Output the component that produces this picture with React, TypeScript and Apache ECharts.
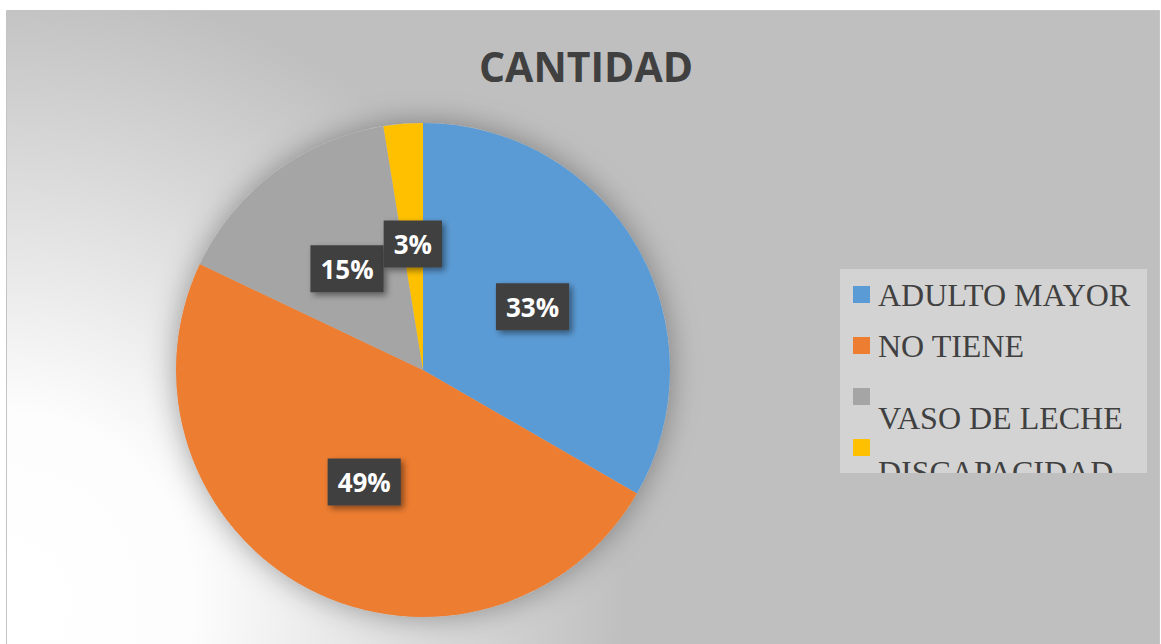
import React, { useEffect, useRef } from "react";
import * as echarts from "echarts";

const titleText = "CANTIDAD";
const categories = ["ADULTO MAYOR", "NO TIENE", "VASO DE LECHE", "DISCAPACIDAD"];
const values = [13, 19, 6, 1];
const colors = ["#5b9bd5", "#ed7d31", "#a5a5a5", "#ffc000"];

// legend layout (text of the last two items wraps onto a second line)
const legendTextShift = [0, 0, 21, 24];

export default function App() {
  const ref = useRef<HTMLDivElement>(null);

  useEffect(() => {
    if (!ref.current) return;
    const chart = echarts.init(ref.current, null, { renderer: "svg" });

    const legendLeft = 840;
    const legendTop = 269;
    const legendW = 307;
    const legendH = 204;
    const pitch = 51;

    const legendEls: any[] = [];
    categories.forEach((name, i) => {
      const iconY = 286 + pitch * i;
      legendEls.push({
        type: "rect",
        z: 11,
        shape: { x: 853, y: iconY, width: 17, height: 17 },
        style: { fill: colors[i] },
      });
      legendEls.push({
        type: "text",
        z: 11,
        x: 878,
        y: iconY + 8.5 + legendTextShift[i],
        style: {
          text: name,
          fill: "#404040",
          font: "32px 'Liberation Serif', 'Times New Roman', serif",
          verticalAlign: "middle",
          align: "left",
        },
      });
    });

    chart.setOption({
      animation: false,
      backgroundColor: "#ffffff",
      title: {
        text: titleText,
        left: 581,
        top: 40,
        textAlign: "center",
        textStyle: {
          fontFamily: "'Open Sans', sans-serif",
          fontWeight: "bold",
          fontSize: 41,
          color: "#404040",
        },
      },
      graphic: {
        elements: [
          {
            type: "rect",
            z: -10,
            silent: true,
            shape: { x: 6.5, y: 10.5, width: 1153, height: 640 },
            style: {
              fill: {
                type: "radial",
                x: 6,
                y: 600,
                r: 620,
                global: true,
                colorStops: [
                  { offset: 0, color: "#ffffff" },
                  { offset: 0.3, color: "#fdfdfd" },
                  { offset: 1, color: "#bfbfbf" },
                ],
              },
              stroke: "#c4c4c4",
              lineWidth: 1,
            },
          },
          {
            type: "rect",
            z: 10,
            silent: true,
            shape: { x: legendLeft, y: legendTop, width: legendW, height: legendH },
            style: { fill: "#d3d3d3" },
          },
          ...legendEls,
          {
            type: "rect",
            z: 12,
            silent: true,
            shape: { x: legendLeft - 2, y: legendTop + legendH, width: legendW + 4, height: 30 },
            style: { fill: "#bfbfbf" },
          },
        ],
      },
      series: [
        {
          type: "pie",
          silent: true,
          z: 1,
          center: [423, 370],
          radius: 247,
          label: { show: false },
          labelLine: { show: false },
          itemStyle: {
            color: "#bfbfbf",
            shadowBlur: 30,
            shadowColor: "rgba(0,0,0,0.35)",
          },
          data: [{ value: 1, name: "" }],
        },
        {
          type: "pie",
          z: 2,
          center: [423, 370],
          radius: 247,
          startAngle: 90,
          clockwise: true,
          percentPrecision: 0,
          itemStyle: { borderWidth: 0 },
          label: {
            show: true,
            position: "inside",
            formatter: "{d}%",
            color: "#ffffff",
            fontFamily: "'Open Sans', sans-serif",
            fontWeight: "bold",
            fontSize: 26,
            lineHeight: 31,
            backgroundColor: "#404040",
            padding: [8, 10],
            shadowColor: "rgba(0,0,0,0.45)",
            shadowBlur: 6,
            shadowOffsetX: 3,
            shadowOffsetY: 3,
          },
          labelLine: { show: false },
          data: categories.map((name, i) => ({
            name,
            value: values[i],
            itemStyle: { color: colors[i] },
          })),
        },
      ],
    });

    return () => chart.dispose();
  }, []);

  return (
    <div
      ref={ref}
      style={{ position: "absolute", left: 0, top: 0, width: 1161, height: 644 }}
    />
  );
}
